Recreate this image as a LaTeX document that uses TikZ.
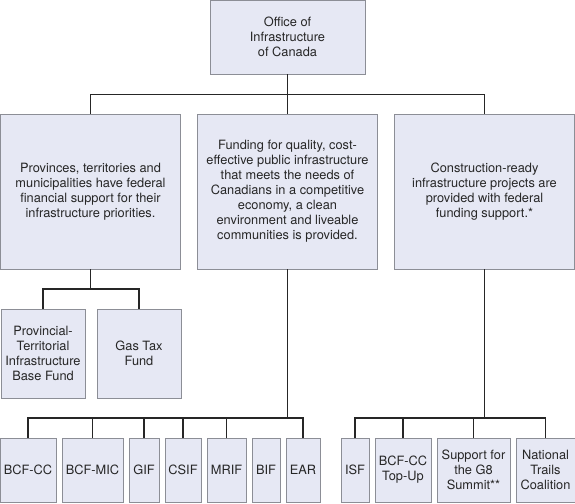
\documentclass[tikz,border=0pt]{standalone}
\usepackage{fontspec}
\setmainfont{TeX Gyre Heros}
\definecolor{boxfill}{HTML}{E6E8F4}
\definecolor{boxline}{HTML}{8C8E96}
\definecolor{wire}{HTML}{262626}
\newcommand{\boxfont}{\fontsize{12.8pt}{15pt}\selectfont}

\begin{document}
\begin{tikzpicture}[
  x=1pt, y=-1pt,
  box/.style={draw=boxline, fill=boxfill, line width=0.9pt, inner sep=0pt, align=center, font=\boxfont, text=black!85},
  goal/.style={box, minimum width=180pt, minimum height=155pt},
  fund/.style={box, minimum height=64pt},
  link/.style={draw=wire, line width=1.1pt}
]
\useasboundingbox (0,0) rectangle (575,503);

\node [box, minimum width=155pt, minimum height=74pt] (office) at (287.5,37) {Office of\\Infrastructure\\of Canada};

\node [goal] (prov) at (90.5,191.5) {Provinces, territories and\\municipalities have federal\\financial support for their\\infrastructure priorities.};
\node [goal] (quality) at (287.5,191.5) {Funding for quality, cost-\\effective public infrastructure\\that meets the needs of\\Canadians in a competitive\\economy, a clean\\environment and liveable\\communities is provided.};
\node [goal] (ready) at (484.5,191.5) {Construction-ready\\infrastructure projects are\\provided with federal\\funding support.*};

\node [box, minimum width=84pt, minimum height=89pt] (ptibf) at (43,353.5) {Provincial-\\Territorial\\Infrastructure\\Base Fund};
\node [box, minimum width=84pt, minimum height=89pt] (gastax) at (139,353.5) {Gas Tax\\Fund};

\node [fund, minimum width=56pt] (bcfcc) at (28,470) {BCF-CC};
\node [fund, minimum width=61pt] (bcfmic) at (92.5,470) {BCF-MIC};
\node [fund, minimum width=30pt] (gif) at (144,470) {GIF};
\node [fund, minimum width=36pt] (csif) at (183,470) {CSIF};
\node [fund, minimum width=39pt] (mrif) at (226.5,470) {MRIF};
\node [fund, minimum width=28pt] (bif) at (266,470) {BIF};
\node [fund, minimum width=34pt] (ear) at (303,470) {EAR};

\node [fund, minimum width=28pt] (isf) at (355,470) {ISF};
\node [fund, minimum width=56pt] (topup) at (403,470) {BCF-CC\\Top-Up};
\node [fund, minimum width=73pt] (gsummit) at (473.5,470) {Support for\\the G8\\Summit**};
\node [fund, minimum width=59pt] (trails) at (545.5,470) {National\\Trails\\Coalition};

\coordinate (topbus) at (287.5,94.5);
\coordinate (provbus) at (90.5,289);
\coordinate (lowbus) at (0,418);

% office to the three results
\draw [link] (office.south) -- (quality.north);
\draw [link] (prov.north) |- (topbus) -| (ready.north);

% left branch
\draw [link] (prov.south) -- (provbus);
\draw [link] (ptibf.north) |- (provbus) -| (gastax.north);

% middle branch
\draw [link] (quality.south) -- (quality.south |- lowbus);
\draw [link] (bcfcc.north) |- (ear.north |- lowbus) -- (ear.north);
\foreach \f in {bcfmic,gif,csif,mrif}
  \draw [link] (\f.north) -- (\f.north |- lowbus);

% right branch
\draw [link] (ready.south) -- (ready.south |- lowbus);
\draw [link] (isf.north) |- (trails.north |- lowbus) -- (trails.north);
\foreach \f in {topup,gsummit}
  \draw [link] (\f.north) -- (\f.north |- lowbus);
\end{tikzpicture}
\end{document}
